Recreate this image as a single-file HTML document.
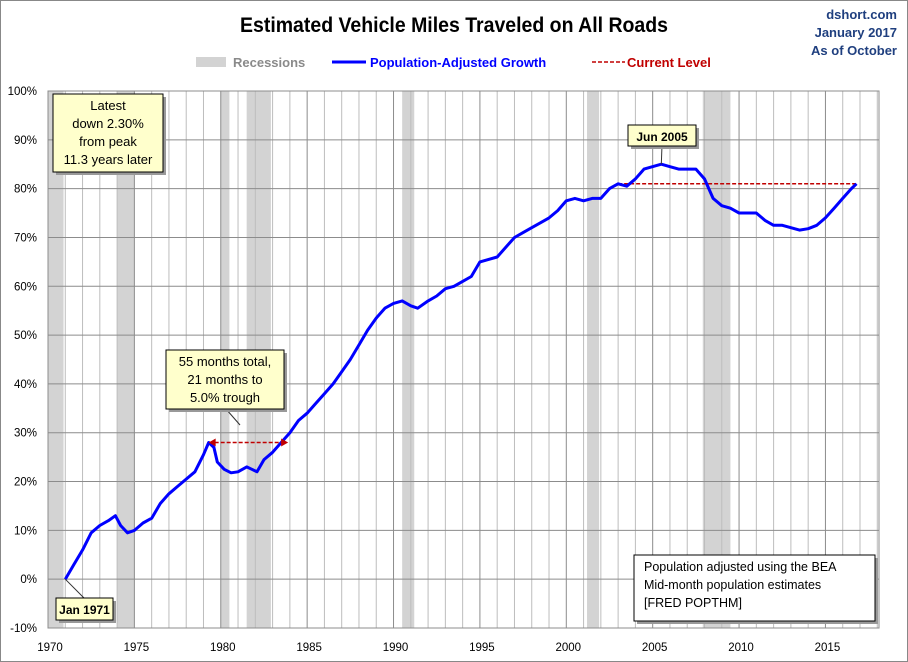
<!DOCTYPE html>
<html><head><meta charset="utf-8">
<style>
body{margin:0;background:#fff;}
svg{display:block;font-family:"Liberation Sans",sans-serif;}
.ttl{font-family:"Liberation Sans Narrow","Liberation Sans",sans-serif;}
</style></head>
<body>
<svg id="chart" width="908" height="662" viewBox="0 0 908 662">
<rect x="0.5" y="0.5" width="907" height="661" fill="#fff" stroke="#888"/>
<text x="454" y="32" text-anchor="middle" font-size="21" font-weight="bold" class="ttl" textLength="428" lengthAdjust="spacingAndGlyphs">Estimated Vehicle Miles Traveled on All Roads</text>
<g font-size="13" fill="#1f3f7f" text-anchor="end" font-weight="bold">
<text x="897" y="19">dshort.com</text>
<text x="897" y="37">January 2017</text>
<text x="897" y="55">As of October</text>
</g>
<g font-size="13" font-weight="bold">
<rect x="196" y="57" width="30" height="10" fill="#d3d3d3"/>
<text x="233" y="67" fill="#8a8a8a">Recessions</text>
<line x1="332" y1="62" x2="366" y2="62" stroke="#0000ff" stroke-width="3"/>
<text x="370" y="67" fill="#0000ff">Population-Adjusted Growth</text>
<line x1="592" y1="62" x2="625" y2="62" stroke="#c00000" stroke-width="1.5" stroke-dasharray="4,2"/>
<text x="627" y="67" fill="#c00000">Current Level</text>
</g>
<g id="plot"></g>
</svg>
<script>
const recStart=[1970.0,1974.0,1980.0,1981.5,1990.5,2001.2,2007.9];
const recEnd=[1970.9,1975.0,1980.5,1982.9,1991.2,2001.9,2009.5];
const years=[1971.0,1971.5,1972,1972.5,1973,1973.5,1973.9,1974.2,1974.6,1975,1975.5,1976,1976.5,1977,1977.5,1978,1978.5,1979,1979.3,1979.6,1979.8,1980.2,1980.6,1981,1981.5,1981.8,1982.1,1982.5,1983,1983.5,1984,1984.5,1985,1985.5,1986,1986.5,1987,1987.5,1988,1988.5,1989,1989.5,1990,1990.5,1991,1991.4,1992,1992.5,1993,1993.5,1994,1994.5,1995,1995.5,1996,1996.5,1997,1997.5,1998,1998.5,1999,1999.5,2000,2000.5,2001,2001.5,2002,2002.5,2003,2003.5,2004,2004.5,2005.5,2006,2006.5,2007,2007.5,2008,2008.5,2009,2009.5,2010,2010.5,2011,2011.5,2012,2012.5,2013,2013.5,2014,2014.5,2015,2015.5,2016,2016.5,2016.8];
const growth=[0,3,6,9.5,11,12,13,11,9.5,10,11.5,12.5,15.5,17.5,19,20.5,22,25.5,28,27,24,22.5,21.8,22,23,22.5,22,24.5,26,28,30,32.5,34,36,38,40,42.5,45,48,51,53.5,55.5,56.5,57,56,55.5,57,58,59.5,60,61,62,65,65.5,66,68,70,71,72,73,74,75.5,77.5,78,77.5,78,78,80,81,80.5,82,84,85,84.5,84,84,84,82,78,76.5,76,75,75,75,73.5,72.5,72.5,72,71.5,71.8,72.5,74,76,78,80,81];
const currentLevel=81;
const currentStart=2003.0;
const yTicks=[-10,0,10,20,30,40,50,60,70,80,90,100];
const xTicks=[1970,1975,1980,1985,1990,1995,2000,2005,2010,2015];

const L=48,R=879,T=91,B=628,X0=1970,X1=2018.1,Y0=-10,Y1=100;
const X=v=>L+(v-X0)/(X1-X0)*(R-L);
const Y=v=>B-(v-Y0)/(Y1-Y0)*(B-T);
const NS="http://www.w3.org/2000/svg";
const g=document.getElementById('plot');
function mk(t,a,p){const e=document.createElementNS(NS,t);for(const k in a)e.setAttribute(k,a[k]);(p||g).appendChild(e);return e;}

for(let i=0;i<recStart.length;i++){
  const r=mk('rect',{x:X(recStart[i]),y:T,width:X(recEnd[i])-X(recStart[i]),height:B-T,fill:'#d3d3d3'});
  
  
}
for(let yr=1970;yr<=2018;yr++){
  const l=mk('line',{x1:X(yr),x2:X(yr),y1:T,y2:B,stroke:yr%5==0?'#8c8c8c':'#bdbdbd','stroke-width':1});
  
  
}
yTicks.forEach(v=>{
  const l=mk('line',{x1:L,x2:R,y1:Y(v),y2:Y(v),stroke:'#8c8c8c','stroke-width':1});
  
  
  const t=mk('text',{x:37,y:Y(v)+4,'text-anchor':'end','font-size':11.5});
  t.textContent=v+'%';
  
  
});
xTicks.forEach(v=>{
  const t=mk('text',{x:X(v)+2,y:651,'text-anchor':'middle','font-size':11.5});
  t.textContent=v;
  
  
});
const fr=mk('rect',{x:L,y:T,width:R-L,height:B-T,fill:'none',stroke:'#8c8c8c'});



const cl=mk('line',{x1:X(currentStart),x2:X(years[years.length-1]),y1:Y(currentLevel),y2:Y(currentLevel),stroke:'#c00000','stroke-width':1.5,'stroke-dasharray':'4,2'});



const pts=years.map((y,i)=>X(y).toFixed(1)+','+Y(growth[i]).toFixed(1)).join(' ');
const pl=mk('polyline',{points:pts,fill:'none',stroke:'#0000ff','stroke-width':3,'stroke-linejoin':'round'});



// double arrow for 1979 peak recovery
const ay=Y(28);
const ar=mk('line',{x1:X(1979.3)+6,x2:X(1983.9)-6,y1:ay,y2:ay,stroke:'#c00000','stroke-width':1.5,'stroke-dasharray':'4,2'});


const ah1=mk('polygon',{points:`${X(1979.3)},${ay} ${X(1979.3)+7},${ay-4} ${X(1979.3)+7},${ay+4}`,fill:'#c00000'});


const ah2=mk('polygon',{points:`${X(1983.9)},${ay} ${X(1983.9)-7},${ay-4} ${X(1983.9)-7},${ay+4}`,fill:'#c00000'});



function box(x,y,w,h,lines,name,fill,bold,anchor,fs){
  const grp=mk('g',{});
  
  
  mk('rect',{x:x+3,y:y+3,width:w,height:h,fill:'#999'},grp);
  mk('rect',{x:x,y:y,width:w,height:h,fill:fill,stroke:'#000'},grp);
  lines.forEach((s,i)=>{
    const t=mk('text',{x:anchor=='start'?x+10:x+w/2,y:y+16+i*18,'text-anchor':anchor,'font-size':fs,'font-weight':bold?'bold':'normal'},grp);
    t.textContent=s;
  });
}
mk('line',{x1:X(1971),y1:Y(0),x2:84,y2:598,stroke:'#333'});
mk('line',{x1:662,y1:145,x2:X(2005.5),y2:Y(85),stroke:'#333'});
mk('line',{x1:226,y1:409,x2:240,y2:425,stroke:'#333'});
box(53,94,110,78,['Latest','down 2.30%','from peak','11.3 years later'],'latest-annotation','#ffffcc',false,'middle',13);
box(166,350,118,59,['55 months total,','21 months to','5.0% trough'],'recovery-annotation','#ffffcc',false,'middle',13);
box(628,125,68,21,['Jun 2005'],'peak-annotation','#ffffcc',true,'middle',12);
box(56,598,57,22,['Jan 1971'],'start-annotation','#ffffcc',true,'middle',12);
box(634,555,241,66,['Population adjusted using the BEA','Mid-month population estimates','[FRED POPTHM]'],'source-note','#fff',false,'start',12.5);
</script>
</body></html>
